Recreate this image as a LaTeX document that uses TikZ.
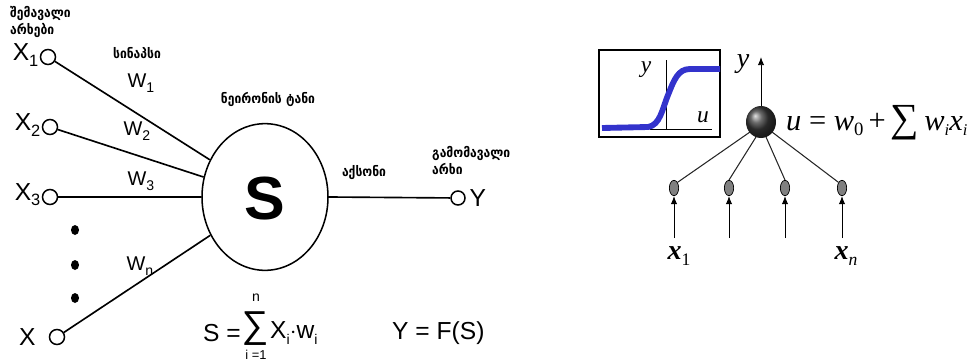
\documentclass[tikz,border=0pt]{standalone}
\usepackage{fontspec}
\setmainfont{Liberation Sans}
\newfontfamily\geo[FakeStretch=0.9]{DejaVu Sans}
\newfontfamily\tms{Liberation Serif}
\usetikzlibrary{shapes.geometric,arrows.meta}
\newcommand\xsub[2]{#1\raisebox{-0.45ex}{\fontsize{14}{14}\selectfont #2}}
\newcommand\wsub[2]{#1\raisebox{-0.45ex}{\fontsize{12}{12}\selectfont #2}}
\begin{document}
\begin{tikzpicture}[x=0.03cm,y=-0.03cm,
  inport/.style={circle,draw,line width=1.3pt,minimum size=0.45cm,inner sep=0},
  wire/.style={line width=1.4pt},
  geolbl/.style={font=\geo\bfseries\fontsize{11.5}{15}\selectfont,align=left,inner sep=0},
  xlbl/.style={font=\fontsize{21}{22}\selectfont,inner sep=0},
  wlbl/.style={font=\fontsize{17}{18}\selectfont,inner sep=0},
  dotn/.style={ellipse,fill=black,minimum width=0.24cm,minimum height=0.3cm,inner sep=0},
  smalln/.style={ellipse,draw=black,fill=black!50,line width=0.6pt,minimum width=0.28cm,minimum height=0.46cm,inner sep=0},
  thin/.style={line width=0.9pt,draw=black!85},
  upar/.style={line width=0.8pt,-{Latex[length=7pt,width=5.5pt]}},
  tlbl/.style={font=\tms\itshape\fontsize{24}{26}\selectfont,inner sep=0}]
\useasboundingbox (0,0) rectangle (973,364);
% ---------- left part ----------
\node[geolbl,anchor=north west] (inlbl) at (10,6) {შემავალი\\არხები};
\node[inport] (in1) at (48,57) {};
\node[inport] (in2) at (50,127) {};
\node[inport] (in3) at (50,197) {};
\node[inport] (inn) at (57,337) {};
\node[xlbl,anchor=east] (x1) at ([xshift=-1pt,yshift=2pt]in1.west) {\xsub{X}{1}};
\node[xlbl,anchor=east] (x2) at ([xshift=-1pt,yshift=2pt]in2.west) {\xsub{X}{2}};
\node[xlbl,anchor=east] (x3) at ([xshift=-1pt,yshift=2pt]in3.west) {\xsub{X}{3}};
\node[xlbl,anchor=east] (xn) at ([xshift=-11pt]inn.west) {X};
\node[dotn] (d1) at (75,230) {};
\node[dotn] (d2) at (75,265) {};
\node[dotn] (d3) at (75,298) {};
\node[ellipse,draw,line width=1.3pt,minimum width=3.78cm,minimum height=4.4cm,inner sep=0] (body) at (265,197) {};
\node[font=\bfseries\fontsize{52}{52}\selectfont,inner sep=0] (S) at (265,199) {S};
\node[inport,minimum size=0.42cm] (out) at (458,198) {};
\node[xlbl,anchor=west] (Y) at ([xshift=3pt]out.east) {Y};
\draw[wire] (in1) -- (body.146);
\draw[wire] (in2) -- (body.162);
\draw[wire] (in3) -- (body.west);
\draw[wire] (inn) -- (body.215);
\draw[wire] (body.east) -- (out);
\node[geolbl] (syn) at (137,53) {სინაპსი};
\node[wlbl] (w1) at (141,83) {\wsub{W}{1}};
\node[wlbl] (w2) at (137,131) {\wsub{W}{2}};
\node[wlbl] (w3) at (141,181) {\wsub{W}{3}};
\node[wlbl] (wn) at (140,266) {\wsub{W}{n}};
\node[geolbl] (soma) at (268,99) {ნეირონის ტანი};
\node[geolbl] (axon) at (364,173) {აქსონი};
\node[geolbl,anchor=north west] (outlbl) at (432,146) {გამომავალი\\არხი};
\node[font=\fontsize{21}{22}\selectfont,inner sep=0,anchor=west] (fS) at (203,333) {S =};
\node[font=\fontsize{32}{32}\selectfont,inner sep=0,anchor=base] (sig) at (255,337) {∑};
\node[font=\fontsize{12}{12}\selectfont,inner sep=0] (nlim) at (256,298) {n};
\node[font=\fontsize{11}{11}\selectfont,inner sep=0] (ilim) at (256,355) {i =1};
\node[font=\fontsize{21}{22}\selectfont,inner sep=0,anchor=west] (fX) at (270,333) {\wsub{X}{i}$\cdot$\wsub{w}{i}};
\node[font=\fontsize{21}{22}\selectfont,inner sep=0,anchor=west] (fY) at (392,333) {Y = F(S)};
% ---------- right part ----------
\draw[line width=1pt] (599,50) rectangle (720,137);
\coordinate (axtop) at (666,60);
\coordinate (axbot) at (666,130);
\coordinate (hl) at (650,129);
\coordinate (hr) at (712,129);
\draw[line width=0.6pt] (axtop) -- (axbot);
\draw[line width=0.6pt] (hl) -- (hr);
\draw[line width=5pt,color={rgb,255:red,51;green,51;blue,204}]
  (602,128) -- (648,127) .. controls (660,125) and (662,110) .. (668,95)
  .. controls (674,80) and (678,69) .. (690,69) -- (720,69);
\node[font=\tms\itshape\fontsize{20}{20}\selectfont,inner sep=0] (sy) at (646,70) {y};
\node[font=\tms\itshape\fontsize{20}{20}\selectfont,inner sep=0] (su) at (703,117) {u};
\shade[ball color=gray!45!black] (761,122) ellipse [x radius=15, y radius=16];
\coordinate (sph) at (761,122);
\coordinate (sphtop) at (761,106);
\coordinate (ytop) at (761,57);
\draw[upar] (sphtop) -- (ytop);
\node[tlbl] (ylab) at (743,64) {y};
\node[font=\tms\fontsize{26}{28}\selectfont,inner sep=0,anchor=west] (fu) at (786,123)
  {\itshape u\/\upshape\ =\ \itshape w\upshape\raisebox{-0.4ex}{\fontsize{16}{16}\selectfont 0}\,+\,$\vcenter{\hbox{\fontsize{34}{34}\selectfont ∑}}$\,\itshape w\raisebox{-0.4ex}{\fontsize{14}{14}\selectfont i}x\raisebox{-0.4ex}{\fontsize{14}{14}\selectfont i}};
\node[smalln] (s1) at (674,188) {};
\node[smalln] (s2) at (729,188) {};
\node[smalln] (s3) at (785,188) {};
\node[smalln] (s4) at (842,188) {};
\coordinate (sb1) at (750,132);
\coordinate (sb2) at (756,137);
\coordinate (sb3) at (766,137);
\coordinate (sb4) at (772,132);
\draw[thin] (sb1) -- (s1.north east);
\draw[thin] (sb2) -- (s2.north);
\draw[thin] (sb3) -- (s3.north);
\draw[thin] (sb4) -- (s4.north west);
\coordinate (a1) at (674,238);
\coordinate (a2) at (729,238);
\coordinate (a3) at (785,238);
\coordinate (a4) at (842,238);
\draw[upar] (a1) -- (s1.south);
\draw[upar] (a2) -- (s2.south);
\draw[upar] (a3) -- (s3.south);
\draw[upar] (a4) -- (s4.south);
\node[tlbl,font=\tms\bfseries\itshape\fontsize{24}{26}\selectfont] (xx1) at (679,256) {x\raisebox{-0.5ex}{\mdseries\upshape\fontsize{15}{15}\selectfont 1}};
\node[tlbl,font=\tms\bfseries\itshape\fontsize{24}{26}\selectfont] (xxn) at (846,256) {x\raisebox{-0.5ex}{\mdseries\fontsize{15}{15}\selectfont n}};
\end{tikzpicture}
\end{document}
